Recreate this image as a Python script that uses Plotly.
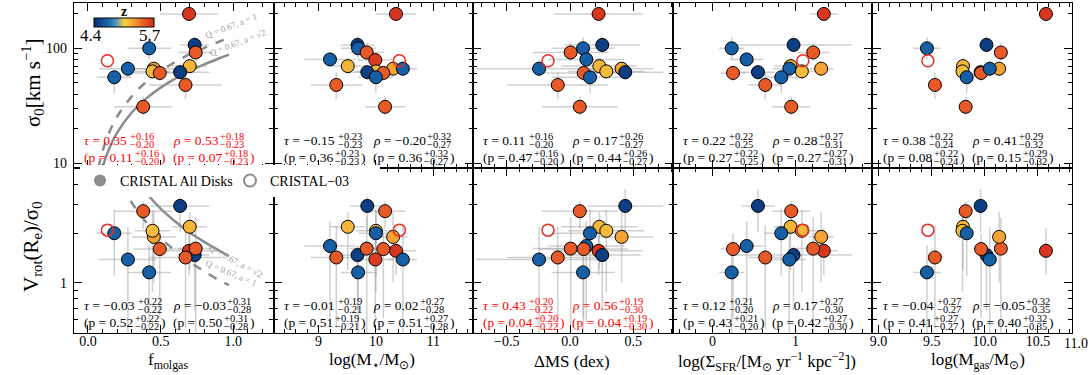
import plotly.graph_objects as go
from plotly.subplots import make_subplots

# ---- CRISTAL disks ----
z_gal = [5.65, 4.49, 4.66, 5.5, 5.62, 4.66, 5.17, 5.25, 5.15, 4.49, 5.5, 4.66, 4.66, 5.5, 5.5]
sigma0 = [199, 107, 100, 92, 79, 80, 70, 66.5, 63, 62, 61, 66.5, 56, 48, 31]
sigma0_lo = [12, 15, 20, 14, 8, 10, 10, 9, 9, 9, 9, 10, 15, 12, 5]
sigma0_hi = [14, 20, 25, 20, 9, 12, 12, 10, 10, 10, 10, 12, 6, 14, 7]
vrot_sigma = [1.57, 1.48, 1.16, 1.62, 1.39, 1.68, 2.2, 1.91, 2.08, 2.95, 1.61, 1.39, 2.01, 1.43, 2.74]
vrot_sigma_lo = [0.45, 0.8, 0.8, 1.2, 0.8, 1.1, 1.0, 0.9, 1.2, 0.9, 1.0, 1.0, 0.9, 0.9, 0.6]
vrot_sigma_hi = [0.6, 0.2, 0.54, 0.9, 0.8, 0.7, 0.5, 0.8, 0.7, 0.8, 0.4, 0.8, 0.8, 0.8, 0.4]

f_molgas = [0.695, 0.734, 0.421, 0.741, None, None, 0.70, 0.453, 0.444, 0.634, 0.494, 0.275, 0.181, 0.671, 0.38]
f_molgas_err = [0.2, 0.1, 0.15, 0.12, None, None, 0.12, 0.15, 0.12, 0.2, 0.18, 0.2, 0.12, 0.25, 0.2]
log_mstar = [10.35, 9.68, 9.69, 9.84, 9.99, 9.20, 9.51, 10.30, 10.00, 9.85, 10.13, 10.47, 10.00, 9.31, 10.16]
log_mstar_err = [0.35, 0.3, 0.3, 0.3, 0.3, 0.45, 0.3, 0.25, 0.35, 0.3, 0.3, 0.25, 0.3, 0.45, 0.35]
delta_ms = [0.226, 0.255, 0.103, 0.005, None, 0.129, 0.232, 0.408, 0.287, 0.437, 0.108, -0.245, 0.158, -0.097, 0.077]
delta_ms_err = [0.35, 0.3, 0.25, 0.3, None, 0.3, 0.3, 0.25, 0.3, 0.3, 0.35, 0.5, 0.3, 0.4, 0.3]
log_sigma_sfr = [1.34, 0.976, 0.232, 1.212, None, 0.412, 0.94, 1.308, 1.076, 0.548, 0.248, 0.925, 0.828, 0.636, 0.948]
log_sigma_sfr_err = [0.17, 0.7, 0.15, 0.2, None, 0.2, 0.2, 0.15, 0.2, 0.2, 0.15, 0.2, 0.2, 0.2, 0.23]
log_mgas = [10.575, 10.016, 9.456, 10.151, None, None, 9.795, 10.135, 9.79, 9.96, 9.965, 10.047, 9.83, 9.531, 9.82]
log_mgas_err = [0.05, 0.05, 0.13, 0.05, None, None, 0.05, 0.05, 0.05, 0.05, 0.05, 0.05, 0.05, 0.05, 0.05]

# CRISTAL-03 (open symbol), one x value per column
c03_x = [0.134, 10.41, -0.174, 1.088, 9.465]
c03_sigma0 = 78
c03_vrot_sigma = 2.10

# Q = 0.67 model curves (first column)
curve_f_top = [0.072, 0.1, 0.15, 0.2, 0.3, 0.4, 0.5, 0.6, 0.7, 0.8, 0.9, 0.97]
curve_sig_a1 = [9.1, 12.7, 19, 25.4, 38, 51, 63.5, 76, 89, 101, 114, 123]
curve_sig_a2 = [6.6, 9.2, 13.8, 18.4, 27.5, 36.5, 45.5, 54.5, 63.5, 72.5, 81.5, 88]
curve_f_bot_a1 = [0.19, 0.25, 0.3, 0.4, 0.5, 0.6, 0.7, 0.8, 0.9, 0.97]
curve_v_a1 = [5.0, 3.75, 3.1, 2.35, 1.88, 1.57, 1.34, 1.18, 1.04, 0.97]
curve_f_bot_a2 = [0.28, 0.35, 0.4, 0.5, 0.6, 0.7, 0.8, 0.9, 0.97]
curve_v_a2 = [5.0, 4.05, 3.55, 2.84, 2.37, 2.03, 1.78, 1.58, 1.46]

# Kendall tau / Spearman rho per panel (top row: sigma0, bottom row: Vrot/sigma0)
tau_top = [0.35, -0.15, 0.11, 0.22, 0.38]
tau_top_up = [0.16, 0.23, 0.16, 0.22, 0.22]
tau_top_lo = [0.20, 0.23, 0.20, 0.25, 0.24]
ptau_top = [0.11, 0.36, 0.47, 0.27, 0.08]
rho_top = [0.53, -0.20, 0.17, 0.28, 0.41]
rho_top_up = [0.18, 0.32, 0.26, 0.27, 0.29]
rho_top_lo = [0.23, 0.27, 0.27, 0.31, 0.32]
prho_top = [0.07, 0.36, 0.44, 0.27, 0.15]
signif_top = [True, False, False, False, False]

tau_bot = [-0.03, -0.01, 0.43, 0.12, -0.04]
tau_bot_up = [0.22, 0.19, 0.20, 0.21, 0.27]
tau_bot_lo = [0.22, 0.21, 0.22, 0.20, 0.27]
ptau_bot = [0.52, 0.51, 0.04, 0.43, 0.41]
rho_bot = [-0.03, 0.02, 0.56, 0.17, -0.05]
rho_bot_up = [0.31, 0.27, 0.19, 0.27, 0.32]
rho_bot_lo = [0.28, 0.28, 0.30, 0.30, 0.35]
prho_bot = [0.50, 0.51, 0.04, 0.42, 0.40]
signif_bot = [False, False, True, False, False]

x_titles = ["f<sub>molgas</sub>", "log(M<sub>⋆</sub>/M<sub>⊙</sub>)", "ΔMS (dex)",
            "log(Σ<sub>SFR</sub>/[M<sub>⊙</sub> yr<sup>−1</sup> kpc<sup>−2</sup>])",
            "log(M<sub>gas</sub>/M<sub>⊙</sub>)"]
x_ranges = [[-0.096, 1.277], [8.217, 11.696], [-0.766, 0.813], [-0.476, 1.924], [8.943, 10.82]]
x_tickvals = [[0, 0.5, 1.0], [9, 10, 11], [-0.5, 0, 0.5], [0, 1], [9.0, 9.5, 10.0, 10.5]]
x_ticktext = [["0.0", "0.5", "1.0"], ["9", "10", "11"], ["−0.5", "0.0", "0.5"], ["0", "1"],
              ["9.0", "9.5", "10.0", "10.5"]]
x_minor = [0.1, 0.2, 0.1, 0.2, 0.1]

FONT = "Liberation Serif"
colorscale = [[0.0, '#0b2c6b'], [0.12, '#0f4a93'], [0.25, '#1b6cb0'], [0.38, '#5c9bb8'],
              [0.5, '#f2d03e'], [0.65, '#f5a535'], [0.82, '#ea6128'], [1.0, '#d3291e']]
ERR = 'rgba(150,150,150,0.45)'

# pixel frame of the plotting area
L, R, T, B = 74, 1072, 3, 333
def px(x):
    return (x - L) / (R - L)
def py(y):
    return (B - y) / (B - T)

col_left = [74, 274, 473, 673, 873]
col_mid = [168, 372, 572, 767, 978]

fig = make_subplots(rows=2, cols=5, horizontal_spacing=0, vertical_spacing=0)

xs_cols = [f_molgas, log_mstar, delta_ms, log_sigma_sfr, log_mgas]
xerr_cols = [f_molgas_err, log_mstar_err, delta_ms_err, log_sigma_sfr_err, log_mgas_err]

# model curves
fig.add_trace(go.Scatter(x=curve_f_top, y=curve_sig_a1, mode='lines', line=dict(color='#8c8c8c', width=2.5, dash='dash'),
                         showlegend=False, hoverinfo='skip', line_shape='spline'), row=1, col=1)
fig.add_trace(go.Scatter(x=curve_f_top, y=curve_sig_a2, mode='lines', line=dict(color='#8c8c8c', width=2.5),
                         showlegend=False, hoverinfo='skip', line_shape='spline'), row=1, col=1)
fig.add_trace(go.Scatter(x=curve_f_bot_a1, y=curve_v_a1, mode='lines', line=dict(color='#8c8c8c', width=2.5, dash='dash'),
                         showlegend=False, hoverinfo='skip', line_shape='spline'), row=2, col=1)
fig.add_trace(go.Scatter(x=curve_f_bot_a2, y=curve_v_a2, mode='lines', line=dict(color='#8c8c8c', width=2.5),
                         showlegend=False, hoverinfo='skip', line_shape='spline'), row=2, col=1)

rows_y = [(sigma0, sigma0_lo, sigma0_hi, c03_sigma0), (vrot_sigma, vrot_sigma_lo, vrot_sigma_hi, c03_vrot_sigma)]
for c in range(5):
    for r, (yv, ylo, yhi, y03) in enumerate(rows_y):
        first = (c == 0 and r == 0)
        fig.add_trace(go.Scatter(
            x=xs_cols[c], y=yv, mode='markers',
            error_x=dict(type='data', array=xerr_cols[c], symmetric=True, color=ERR, thickness=1.5, width=0),
            error_y=dict(type='data', array=yhi, arrayminus=ylo, symmetric=False, color=ERR, thickness=1.5, width=0),
            marker=dict(color=z_gal, colorscale=colorscale, cmin=4.4, cmax=5.7, size=13,
                        line=dict(color='black', width=1), showscale=first,
                        colorbar=dict(orientation='h', x=px(124), xanchor='center', y=py(18), yanchor='top',
                                      len=60, lenmode='pixels', thickness=9, thicknessmode='pixels',
                                      outlinewidth=1, outlinecolor='black', showticklabels=False,
                                      ticks='', xpad=0, ypad=0) if first else None),
            showlegend=False, hoverinfo='skip'), row=r + 1, col=c + 1)
        fig.add_trace(go.Scatter(x=[c03_x[c]], y=[y03], mode='markers',
                                 marker=dict(symbol='circle-open', size=12, color='#ee2a24', line=dict(width=1.5)),
                                 showlegend=False, hoverinfo='skip'), row=r + 1, col=c + 1)

# legend entries
fig.add_trace(go.Scatter(x=[None], y=[None], mode='markers', name='CRISTAL All Disks',
                         marker=dict(color='#8c8c8c', size=11)), row=1, col=1)
fig.add_trace(go.Scatter(x=[None], y=[None], mode='markers', name='CRISTAL−03',
                         marker=dict(symbol='circle-open', color='#8c8c8c', size=10, line=dict(width=1.3))), row=1, col=1)

axis_common = dict(showline=True, linecolor='black', linewidth=1.3, mirror='allticks', ticks='inside',
                   ticklen=8, tickwidth=1, tickcolor='black', showgrid=False, zeroline=False,
                   tickfont=dict(family=FONT, size=14, color='black'), automargin=False)

for c in range(5):
    for r in range(2):
        fig.update_xaxes(range=x_ranges[c], tickmode='array', tickvals=x_tickvals[c], ticktext=x_ticktext[c],
                         showticklabels=(r == 1), ticklabelstandoff=-5,
                         minor=dict(dtick=x_minor[c], tick0=0, ticks='inside', ticklen=4, tickcolor='black'),
                         row=r + 1, col=c + 1, **axis_common)
    fig.update_yaxes(type='log', range=[0.959, 2.394], tickmode='array', tickvals=[10, 100], ticktext=['10', '100'],
                     showticklabels=(c == 0), ticklabelstandoff=3,
                     minor=dict(tickmode='array', tickvals=[20, 30, 40, 50, 60, 70, 80, 90, 200], ticks='inside',
                                ticklen=4, tickcolor='black'),
                     row=1, col=c + 1, **axis_common)
    fig.update_yaxes(type='log', range=[-0.305, 0.701], tickmode='array', tickvals=[1], ticktext=['1'],
                     showticklabels=(c == 0), ticklabelstandoff=3,
                     minor=dict(tickmode='array', tickvals=[0.6, 0.7, 0.8, 0.9, 2, 3, 4], ticks='inside',
                                ticklen=4, tickcolor='black'),
                     row=2, col=c + 1, **axis_common)

# ---- text ----
ann = []
def text(x, y, s, size=14, color='black', xanchor='center', yanchor='middle', angle=0):
    ann.append(dict(xref='paper', yref='paper', x=px(x), y=py(y), text=s, showarrow=False,
                    xanchor=xanchor, yanchor=yanchor, textangle=angle, borderpad=0, borderwidth=0,
                    font=dict(family=FONT, size=size, color=color)))

CW = {'.': 0.25, ' ': 0.25, '=': 0.564, '(': 0.333, ')': 0.333, '−': 0.564, '+': 0.564, 'τ': 0.44, 'ρ': 0.5}
def tw(s, size):
    return sum(CW.get(ch, 0.5) for ch in s) * size

def num(v):
    return f"{v:.2f}".replace('-', '−')

MAIN, SCRIPT = 13.5, 10.5
def stat(x0, yc, head, val, up, lo, color, close):
    main = f"{head} = {num(val)}"
    shown = main.replace('τ', '<i>τ</i>').replace('ρ', '<i>ρ</i>')
    text(x0, yc, shown, size=MAIN, color=color, xanchor='left')
    xs = x0 + tw(main, MAIN) + 2
    sup, sub = f"+{up:.2f}", f"−{lo:.2f}"
    text(xs, yc - 4, sup, size=SCRIPT, color=color, xanchor='left')
    text(xs, yc + 4.5, sub, size=SCRIPT, color=color, xanchor='left')
    if close:
        text(xs + max(tw(sup, SCRIPT), tw(sub, SCRIPT)) + 1, yc, ")", size=MAIN, color=color, xanchor='left')

for c in range(5):
    for r in range(2):
        bottom = 168 if r == 0 else 333
        if r == 0:
            t, tu, tl, pt = tau_top[c], tau_top_up[c], tau_top_lo[c], ptau_top[c]
            rh, ru, rl, pr = rho_top[c], rho_top_up[c], rho_top_lo[c], prho_top[c]
            col = 'red' if signif_top[c] else 'black'
        else:
            t, tu, tl, pt = tau_bot[c], tau_bot_up[c], tau_bot_lo[c], ptau_bot[c]
            rh, ru, rl, pr = rho_bot[c], rho_bot_up[c], rho_bot_lo[c], prho_bot[c]
            col = 'red' if signif_bot[c] else 'black'
        x1, x2 = col_left[c] + 10, col_left[c] + 99
        stat(x1, bottom - 28, 'τ', t, tu, tl, col, False)
        stat(x2, bottom - 28, 'ρ', rh, ru, rl, col, False)
        stat(x1, bottom - 11, '(p', pt, tu, tl, col, True)
        stat(x2, bottom - 11, '(p', pr, ru, rl, col, True)

for c in range(5):
    text(col_mid[c], 361, x_titles[c], size=17)
text(1076, 343, "11.0", size=14)

text(32, 83, "σ<sub>0</sub>[km s<sup>−1</sup>]", size=21, angle=-90)
text(32, 247, "V<sub>rot</sub>(R<sub>e</sub>)/σ<sub>0</sub>", size=21, angle=-90)

# colour bar labels
text(124, 12, "<b>z</b>", size=14)
text(91, 36, "4.4", size=17)
text(150, 36, "5.7", size=17)

text(231, 26, "Q = 0.67, a = 1", size=9, color='#a0a0a0', angle=-21)
text(237, 43, "Q = 0.67, a = √2", size=9, color='#a0a0a0', angle=-21)
text(235, 261, "Q = 0.67, a = √2", size=9, color='#a0a0a0', angle=28)
text(231, 273, "Q = 0.67, a = 1", size=9, color='#a0a0a0', angle=23)

fig.update_layout(
    width=1090, height=375,
    margin=dict(l=L, r=1090 - R, t=T, b=375 - B),
    plot_bgcolor='white', paper_bgcolor='white',
    annotations=ann,
    showlegend=True,
    legend=dict(orientation='h', x=px(80), y=py(181), xanchor='left', yanchor='middle',
                bgcolor='white', borderwidth=0, itemsizing='constant', entrywidth=105, entrywidthmode='pixels',
                font=dict(family=FONT, size=14, color='black')),
    hovermode=False,
)

# the page body has a default 8px margin; drop it so the figure fills the window
fig.write_html("out.html", config={'displayModeBar': False},
               post_script="document.body.style.margin='0px';")
